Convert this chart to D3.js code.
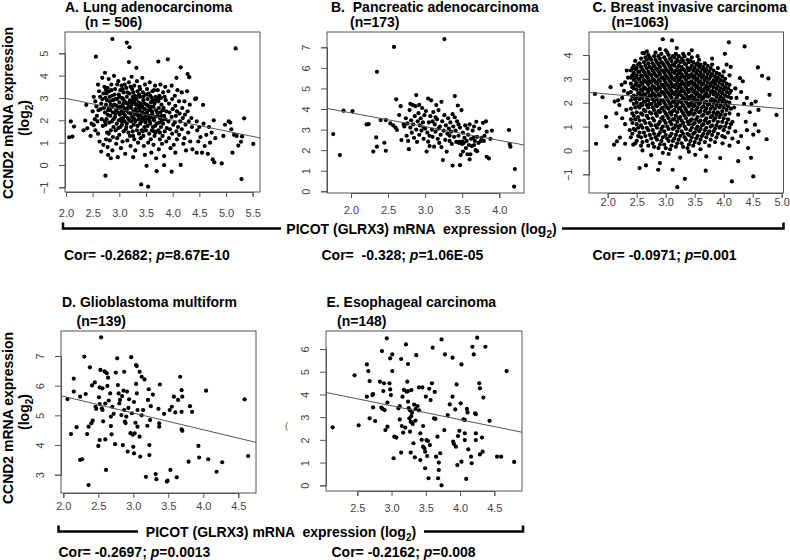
<!DOCTYPE html>
<html><head><meta charset="utf-8">
<script src="https://cdn.jsdelivr.net/npm/d3@7"></script>
<style>
body{margin:0;background:#fff}
svg text{font-family:"Liberation Sans",Arial,Helvetica,sans-serif}
</style>
</head><body>
<svg id="chart" width="790" height="560"></svg>
<script>
// ---------------- DATA ----------------
const titles = ["A. Lung adenocarcinoma","B.  Pancreatic adenocarcinoma","C. Breast invasive carcinoma","D. Glioblastoma multiform","E. Esophageal carcinoma"];
const nLabels = ["(n = 506)","(n=173)","(n=1063)","(n=139)","(n=148)"];
const corValues = ["-0.2682"," -0.328","-0.0971","-0.2697","-0.2162"];
const pValues = ["8.67E-10","1.06E-05","0.001","0.0013","0.008"];
const xLabel = "PICOT (GLRX3) mRNA  expression (log";
const yLabel = "CCND2 mRNA expression";

const lungXTicks=[2.0,2.5,3.0,3.5,4.0,4.5,5.0,5.5], lungYTicks=[-1,0,1,2,3,4,5];
const pancXTicks=[2.0,2.5,3.0,3.5,4.0], pancYTicks=[0,1,2,3,4,5,6,7];
const breastXTicks=[2.0,2.5,3.0,3.5,4.0,4.5,5.0], breastYTicks=[-1,0,1,2,3,4];
const gbmXTicks=[2.0,2.5,3.0,3.5,4.0,4.5], gbmYTicks=[3,4,5,6,7];
const escaXTicks=[2.5,3.0,3.5,4.0,4.5], escaYTicks=[0,1,2,3,4,5,6];

// regression fits [intercept, slope]
const lungFit=[3.95,-0.486], pancFit=[5.147,-0.668], breastFit=[2.77,-0.203], gbmFit=[6.77,-0.564], escaFit=[5.338,-0.612];

const lungPts=[[2.06,1.24],[2.12,1.27],[2.09,1.95],[2.15,1.72],[2.36,1.99],[2.38,2.69],[2.46,1.30],[2.40,1.64],[2.33,1.55],
[2.56,4.85],[2.52,3.05],[2.55,2.85],[2.57,2.62],[2.50,2.40],[2.48,1.85],[2.55,1.55],[2.52,1.78],[2.60,3.60],[2.62,3.30],[2.58,2.20],[2.60,1.40],[2.63,1.05],[2.65,2.50],[2.64,3.05],[2.66,2.75],[2.68,3.90],[2.67,2.05],[2.69,1.75],[2.70,0.90],[2.66,0.60],[2.70,3.20],[2.68,2.95],[2.54,2.05],[2.61,2.45],[2.59,1.95],
[2.73,4.13],[2.74,-0.48],[2.72,3.50],[2.74,3.00],[2.75,2.70],[2.73,2.35],[2.76,2.05],[2.74,1.80],[2.77,1.45],[2.75,1.15],[2.78,0.80],[2.80,3.85],[2.81,3.30],[2.82,2.85],[2.80,2.55],[2.83,2.20],[2.81,1.90],[2.84,1.55],[2.82,1.10],[2.79,0.45],[2.85,3.60],[2.86,3.10],[2.87,2.60],[2.88,2.35],[2.86,1.95],[2.89,1.70],[2.88,1.25],[2.87,0.65],[2.90,3.99],[2.87,5.64],[2.84,0.30],[2.78,3.45],[2.76,3.20],[2.84,2.70],[2.79,2.45],[2.82,3.05],[2.88,2.90],[2.77,2.90],
[2.92,3.40],[2.93,2.95],[2.91,2.70],[2.94,2.45],[2.92,2.15],[2.95,1.85],[2.93,1.55],[2.96,1.20],[2.94,0.95],[2.97,0.35],[2.98,3.75],[2.99,3.15],[3.00,2.80],[2.98,2.55],[3.01,2.25],[2.99,2.00],[3.02,1.70],[3.00,1.35],[3.03,0.75],[3.04,3.55],[3.05,3.00],[3.06,2.65],[3.04,2.40],[3.07,2.10],[3.05,1.80],[3.08,1.50],[3.06,1.05],[3.09,3.85],[3.08,3.25],[3.10,2.85],[3.09,2.55],[3.11,2.20],[3.10,1.95],[3.12,1.60],[3.11,0.50],[3.14,5.48],[3.10,3.60],[2.96,3.60],[3.02,3.35],[3.07,2.95],[2.97,2.35],[3.03,2.05],[3.08,2.30],[2.95,2.65],
[3.13,3.45],[3.14,3.05],[3.15,2.75],[3.13,2.45],[3.16,2.10],[3.14,1.85],[3.17,1.45],[3.15,1.10],[3.18,4.61],[3.19,5.27],[3.18,3.70],[3.19,3.20],[3.20,2.90],[3.18,2.60],[3.21,2.30],[3.19,2.00],[3.22,1.70],[3.20,1.30],[3.21,0.85],[3.23,3.95],[3.24,3.40],[3.25,3.05],[3.23,2.70],[3.26,2.40],[3.24,2.15],[3.27,1.80],[3.25,1.50],[3.26,0.35],[3.28,3.55],[3.29,3.10],[3.28,2.80],[3.30,2.50],[3.29,2.25],[3.30,1.95],[3.28,1.15],[3.30,0.65],[3.16,2.55],[3.22,2.55],[3.27,2.95],[3.21,3.50],[3.26,1.30],
[3.32,4.35],[3.33,3.75],[3.34,3.30],[3.32,2.95],[3.35,2.65],[3.33,2.35],[3.36,2.05],[3.34,1.75],[3.37,1.40],[3.35,1.00],[3.38,3.50],[3.39,3.05],[3.40,2.75],[3.38,2.45],[3.41,2.15],[3.39,1.85],[3.42,1.55],[3.40,1.20],[3.41,-0.87],[3.43,3.90],[3.44,3.25],[3.45,2.90],[3.43,2.60],[3.46,2.30],[3.44,2.00],[3.47,1.70],[3.45,1.30],[3.46,0.85],[3.48,3.60],[3.49,3.15],[3.48,2.50],[3.50,2.20],[3.49,1.90],[3.50,1.55],[3.48,0.45],[3.51,-0.04],[3.36,2.80],[3.42,2.60],[3.47,2.75],[3.37,3.15],[3.45,2.10],[3.39,2.25],[3.33,1.55],[3.44,1.50],
[3.52,3.40],[3.53,2.95],[3.54,2.65],[3.52,2.35],[3.55,2.05],[3.53,1.75],[3.56,1.40],[3.54,1.00],[3.54,-0.97],[3.57,3.70],[3.58,3.10],[3.59,2.80],[3.57,2.50],[3.60,2.15],[3.58,1.85],[3.61,1.55],[3.59,1.15],[3.60,0.55],[3.62,3.30],[3.63,2.90],[3.64,2.60],[3.62,2.30],[3.65,2.00],[3.63,1.70],[3.66,1.30],[3.64,0.90],[3.67,3.55],[3.68,3.05],[3.69,2.45],[3.67,2.15],[3.70,1.85],[3.68,1.45],[3.70,-0.28],[3.69,0.30],[3.56,2.20],[3.61,2.40],[3.66,2.75],[3.55,3.20],[3.65,1.50],
[3.73,4.63],[3.72,3.35],[3.73,2.85],[3.74,2.55],[3.72,2.20],[3.75,1.90],[3.73,1.55],[3.76,1.15],[3.74,0.70],[3.77,3.60],[3.78,3.00],[3.79,2.70],[3.77,2.35],[3.80,2.00],[3.78,1.70],[3.81,1.30],[3.80,0.95],[3.82,3.25],[3.83,2.55],[3.84,2.20],[3.82,1.85],[3.85,1.50],[3.84,0.40],[3.86,3.50],[3.87,2.90],[3.88,2.40],[3.86,2.05],[3.89,1.65],[3.88,1.05],[3.84,-0.01],[3.91,4.73],[3.76,2.10],[3.81,2.45],[3.75,3.10],[3.85,3.05],
[3.92,3.30],[3.93,2.75],[3.94,2.35],[3.92,1.95],[3.95,1.60],[3.93,1.20],[3.96,0.75],[3.98,3.55],[3.99,2.95],[4.00,2.50],[3.98,2.15],[4.01,1.80],[3.99,1.40],[4.02,0.90],[3.98,-0.30],[4.04,3.10],[4.05,2.65],[4.06,2.20],[4.04,1.90],[4.07,1.50],[4.05,0.55],[4.09,3.35],[4.08,2.40],[4.10,1.70],[4.08,1.15],[4.07,3.90],
[4.12,2.85],[4.13,2.30],[4.14,1.95],[4.12,1.35],[4.15,0.00],[4.15,4.37],[4.17,3.25],[4.18,2.55],[4.19,2.10],[4.17,1.60],[4.20,0.95],[4.22,2.85],[4.23,2.25],[4.24,1.80],[4.22,1.20],[4.25,0.65],[4.28,4.07],[4.31,3.93],[4.27,3.30],[4.28,2.40],[4.30,1.95],[4.29,1.45],[4.32,2.70],[4.33,1.05],[4.35,2.10],[4.37,0.70],[4.36,1.70],
[4.42,2.95],[4.44,2.98],[4.45,1.95],[4.46,1.55],[4.48,1.05],[4.45,0.55],[4.50,1.70],[4.52,1.25],[4.55,0.55],[4.57,2.69],[4.58,1.85],[4.60,0.85],[4.63,1.35],[4.66,0.50],[4.68,1.70],[4.70,1.00],[4.73,1.45],[4.75,0.25],[4.78,0.12],[4.80,1.20],[4.77,2.00],
[4.92,0.07],[4.95,1.30],[4.98,1.80],[5.05,1.95],[5.08,1.90],[5.10,1.60],[5.12,0.55],[5.18,5.22],[5.20,1.30],[5.23,0.87],[5.28,1.04],[5.30,1.28],[5.29,-0.63],[5.34,2.09],[5.51,0.94],[5.15,1.35],
[2.83,2.45],[2.85,3.35],[2.89,2.05],[2.91,3.15],[2.93,2.30],[2.96,2.95],[2.98,1.65],[3.00,3.05],[3.02,2.60],[3.04,1.95],[3.06,3.40],[3.08,2.75],[3.11,2.45],[3.13,1.70],[3.15,3.25],[3.17,2.35],[3.19,2.80],[3.22,1.95],[3.24,2.85],[3.26,3.25],[3.28,2.05],[3.31,2.70],[3.33,3.05],[3.35,2.20],[3.37,2.55],[3.39,3.40],[3.41,1.95],[3.43,2.35],[3.45,3.05],[3.47,2.50],[3.49,2.05],[3.51,2.70],[3.53,3.15],[3.55,2.45],[3.57,1.95],[3.59,2.60],[3.61,3.00],[3.63,2.10],[3.65,3.35],[3.67,1.75],[3.69,2.90],[3.71,2.35],[3.74,3.00],[3.76,1.45],[3.79,2.20],[2.71,2.55],[2.73,1.95],[2.75,3.35],[2.78,2.25],[2.80,1.40]];

const pancPts=[[1.76,2.78],[1.85,1.76],[1.90,3.92],[2.02,3.90],[2.21,3.25],[2.24,3.27],[2.35,5.81],[2.34,2.62],[2.35,2.17],[2.30,1.93],[2.40,3.46],[2.45,2.36],[2.47,1.97],[2.47,3.46],[2.53,3.30],[2.58,7.02],[2.61,4.47],[2.62,2.98],[2.65,3.71],[2.67,4.14],[2.68,2.49],[2.71,3.25],[2.60,3.10],[2.57,3.20],
[2.72,3.15],[2.74,3.55],[2.75,2.70],[2.76,3.30],[2.77,2.45],[2.78,2.05],[2.79,3.95],[2.80,3.10],[2.81,3.45],[2.82,2.85],[2.83,4.20],[2.84,3.25],[2.85,2.60],[2.86,3.65],[2.87,4.14],[2.88,4.68],[2.88,3.00],[2.89,2.40],[2.90,3.40],[2.91,3.80],[2.92,2.75],[2.93,3.20],[2.94,3.55],[2.95,2.95],[2.96,4.05],[2.97,3.35],[2.98,2.55],[2.99,3.70],[2.80,4.25],[2.92,4.20],
[3.00,3.05],[3.01,3.90],[3.02,1.93],[3.03,2.85],[3.04,4.51],[3.04,2.41],[3.05,3.35],[3.06,2.20],[3.07,3.65],[3.08,4.42],[3.09,3.00],[3.10,2.65],[3.11,3.85],[3.12,2.17],[3.13,3.25],[3.14,2.90],[3.15,4.19],[3.16,3.50],[3.17,2.55],[3.18,3.95],[3.19,2.35],[3.20,3.15],[3.21,2.75],[3.22,4.35],[3.23,3.40],[3.24,1.52],[3.25,2.95],[3.26,7.40],[3.26,3.70],[3.27,2.50],[3.28,3.20],[3.29,1.93],[3.10,3.40],[3.18,3.05],
[3.30,2.80],[3.31,3.55],[3.32,3.05],[3.33,2.45],[3.34,3.35],[3.35,2.90],[3.36,2.30],[3.37,1.25],[3.37,3.75],[3.38,3.15],[3.39,2.65],[3.40,4.63],[3.41,2.95],[3.42,2.40],[3.43,3.40],[3.44,4.17],[3.45,2.70],[3.46,2.35],[3.47,1.27],[3.47,3.10],[3.48,1.76],[3.48,2.35],[3.49,3.95],[3.49,2.40],[3.50,2.30],[3.51,1.93],[3.51,2.85],[3.52,2.35],[3.53,2.60],[3.54,3.20],[3.55,2.10],[3.56,2.45],[3.57,1.80],[3.58,2.75],[3.59,2.25],[3.60,3.25],[3.61,1.80],[3.62,2.55],[3.46,2.40],[3.50,2.42],[3.45,3.25],
[3.63,2.20],[3.64,2.95],[3.65,2.60],[3.66,3.15],[3.67,2.45],[3.68,2.00],[3.69,3.38],[3.70,2.65],[3.72,2.35],[3.73,3.05],[3.75,2.44],[3.76,2.60],[3.78,3.33],[3.79,2.45],[3.80,2.70],[3.82,3.40],[3.83,2.90],[3.83,1.68],[3.86,1.60],[3.88,2.55],[3.90,2.95],[3.70,1.95],[3.60,1.55],
[2.98,3.10],[3.06,2.70],[3.14,3.60],[3.22,2.15],[3.33,2.70],[3.40,3.60],[3.57,3.05],[3.66,2.25],
[4.13,2.98],[4.14,2.30],[4.15,2.17],[4.21,1.08],[4.20,0.23]];

// breast: dense core read column by column, plus interleaved columns and fringe points
const breastPts=[
[2.40,0.55],[2.40,1.30],[2.40,1.75],[2.40,2.10],[2.40,2.45],[2.40,2.80],[2.40,3.05],[2.40,3.35],
[2.45,0.90],[2.45,1.45],[2.45,1.95],[2.45,2.30],[2.45,2.60],[2.45,2.95],[2.45,3.25],[2.45,3.55],
[2.50,0.40],[2.50,1.10],[2.50,1.60],[2.50,2.00],[2.50,2.25],[2.50,2.55],[2.50,2.85],[2.50,3.15],[2.50,3.45],
[2.55,0.75],[2.55,1.25],[2.55,1.80],[2.55,2.15],[2.55,2.40],[2.55,2.70],[2.55,3.00],[2.55,3.30],[2.55,3.65],
[2.60,0.35],[2.60,0.95],[2.60,1.50],[2.60,1.90],[2.60,2.20],[2.60,2.50],[2.60,2.80],[2.60,3.10],[2.60,3.40],[2.60,4.08],
[2.65,0.60],[2.65,1.15],[2.65,1.65],[2.65,2.05],[2.65,2.35],[2.65,2.60],[2.65,2.90],[2.65,3.20],[2.65,3.55],[2.65,3.90],
[2.70,0.20],[2.70,0.85],[2.70,1.35],[2.70,1.80],[2.70,2.10],[2.70,2.45],[2.70,2.75],[2.70,3.00],[2.70,3.30],[2.70,3.65],
[2.75,0.50],[2.75,1.05],[2.75,1.55],[2.75,1.95],[2.75,2.25],[2.75,2.55],[2.75,2.85],[2.75,3.15],[2.75,3.45],[2.75,3.80],
[2.80,0.15],[2.80,0.70],[2.80,1.25],[2.80,1.70],[2.80,2.05],[2.80,2.35],[2.80,2.65],[2.80,2.95],[2.80,3.25],[2.80,3.55],[2.80,3.95],
[2.85,0.45],[2.85,0.95],[2.85,1.45],[2.85,1.85],[2.85,2.15],[2.85,2.50],[2.85,2.80],[2.85,3.10],[2.85,3.40],[2.85,3.70],
[2.90,0.25],[2.90,0.75],[2.90,1.20],[2.90,1.60],[2.90,1.95],[2.90,2.30],[2.90,2.60],[2.90,2.90],[2.90,3.20],[2.90,3.50],[2.90,3.85],[2.90,4.25],
[2.95,0.55],[2.95,1.00],[2.95,1.40],[2.95,1.80],[2.95,2.10],[2.95,2.45],[2.95,2.75],[2.95,3.05],[2.95,3.35],[2.95,3.65],[2.95,4.66],
[3.00,0.10],[3.00,0.65],[3.00,1.15],[3.00,1.55],[3.00,1.90],[3.00,2.25],[3.00,2.55],[3.00,2.85],[3.00,3.15],[3.00,3.45],[3.00,3.80],
[3.05,0.40],[3.05,0.90],[3.05,1.35],[3.05,1.75],[3.05,2.05],[3.05,2.40],[3.05,2.70],[3.05,3.00],[3.05,3.30],[3.05,3.60],[3.05,4.00],
[3.10,0.20],[3.10,0.70],[3.10,1.10],[3.10,1.50],[3.10,1.85],[3.10,2.20],[3.10,2.50],[3.10,2.80],[3.10,3.10],[3.10,3.40],[3.10,3.75],[3.11,4.61],
[3.15,0.50],[3.15,0.95],[3.15,1.30],[3.15,1.70],[3.15,2.00],[3.15,2.35],[3.15,2.65],[3.15,2.95],[3.15,3.25],[3.15,3.55],[3.15,3.90],
[3.20,0.30],[3.20,0.80],[3.20,1.20],[3.20,1.60],[3.20,1.95],[3.20,2.25],[3.20,2.55],[3.20,2.85],[3.20,3.15],[3.20,3.45],[3.20,3.80],[3.19,4.29],
[3.25,0.60],[3.25,1.05],[3.25,1.40],[3.25,1.80],[3.25,2.10],[3.25,2.45],[3.25,2.75],[3.25,3.05],[3.25,3.35],[3.25,3.70],
[3.30,0.15],[3.30,0.70],[3.30,1.15],[3.30,1.55],[3.30,1.90],[3.30,2.20],[3.30,2.50],[3.30,2.80],[3.30,3.10],[3.30,3.40],[3.30,3.75],[3.30,4.05],
[3.35,0.45],[3.35,0.90],[3.35,1.35],[3.35,1.70],[3.35,2.05],[3.35,2.35],[3.35,2.65],[3.35,2.95],[3.35,3.25],[3.35,3.60],
[3.40,0.25],[3.40,0.65],[3.40,1.10],[3.40,1.50],[3.40,1.85],[3.40,2.15],[3.40,2.45],[3.40,2.75],[3.40,3.05],[3.40,3.35],[3.40,3.70],
[3.45,0.55],[3.45,0.95],[3.45,1.30],[3.45,1.70],[3.45,2.00],[3.45,2.30],[3.45,2.60],[3.45,2.90],[3.45,3.20],[3.45,3.55],[3.45,3.90],
[3.50,0.35],[3.50,0.75],[3.50,1.15],[3.50,1.55],[3.50,1.90],[3.50,2.20],[3.50,2.50],[3.50,2.80],[3.50,3.10],[3.50,3.45],
[3.55,0.60],[3.55,1.00],[3.55,1.40],[3.55,1.80],[3.55,2.10],[3.55,2.40],[3.55,2.70],[3.55,3.00],[3.55,3.35],[3.55,3.65],
[3.60,0.45],[3.60,0.90],[3.60,1.25],[3.60,1.65],[3.60,2.00],[3.60,2.30],[3.60,2.60],[3.60,2.90],[3.60,3.25],[3.60,3.60],
[3.65,0.70],[3.65,1.10],[3.65,1.50],[3.65,1.85],[3.65,2.20],[3.65,2.50],[3.65,2.80],[3.65,3.15],[3.65,3.50],
[3.70,0.55],[3.70,0.95],[3.70,1.35],[3.70,1.75],[3.70,2.05],[3.70,2.40],[3.70,2.70],[3.70,3.05],[3.70,3.40],
[3.75,0.80],[3.75,1.20],[3.75,1.60],[3.75,1.95],[3.75,2.30],[3.75,2.65],[3.75,3.00],[3.75,3.30],
[3.80,0.65],[3.80,1.05],[3.80,1.45],[3.80,1.85],[3.80,2.15],[3.80,2.50],[3.80,2.85],[3.80,3.20],[3.80,3.60],
[3.85,0.90],[3.85,1.35],[3.85,1.75],[3.85,2.10],[3.85,2.45],[3.85,2.80],[3.85,3.10],
[3.90,0.70],[3.90,1.20],[3.90,1.60],[3.90,2.00],[3.90,2.35],[3.90,2.70],[3.90,3.05],[3.90,3.45],
[3.95,1.00],[3.95,1.50],[3.95,1.90],[3.95,2.25],[3.95,2.60],[3.95,2.95],
[4.00,0.85],[4.00,1.35],[4.00,1.80],[4.00,2.15],[4.00,2.55],[4.00,2.90],[4.00,3.30],
[4.05,1.15],[4.05,1.70],[4.05,2.05],[4.05,2.45],[4.05,2.80],
[4.10,0.95],[4.10,1.55],[4.10,2.00],[4.10,2.40],[4.10,2.75],[4.10,3.15],
[2.425,0.70],[2.425,1.15],[2.425,1.55],[2.425,2.25],[2.425,2.65],[2.425,3.15],[2.425,3.45],
[2.475,0.30],[2.475,0.85],[2.475,1.30],[2.475,1.80],[2.475,2.15],[2.475,2.75],[2.475,3.05],[2.475,3.40],[2.475,3.75],
[2.525,0.60],[2.525,0.95],[2.525,1.40],[2.525,1.85],[2.525,2.40],[2.525,2.70],[2.525,3.00],[2.525,3.30],[2.525,3.60],
[2.575,0.20],[2.575,0.55],[2.575,1.05],[2.575,1.55],[2.575,1.95],[2.575,2.30],[2.575,2.55],[2.575,2.85],[2.575,3.15],[2.575,3.50],[2.575,3.85],
[2.625,0.75],[2.625,1.25],[2.625,1.70],[2.625,2.05],[2.625,2.35],[2.625,2.65],[2.625,2.95],[2.625,3.30],[2.625,3.70],
[2.675,0.40],[2.675,0.95],[2.675,1.45],[2.675,1.90],[2.675,2.20],[2.675,2.55],[2.675,2.85],[2.675,3.10],[2.675,3.45],[2.675,3.80],[2.675,4.15],
[2.725,0.65],[2.725,1.15],[2.725,1.60],[2.725,1.95],[2.725,2.30],[2.725,2.60],[2.725,2.90],[2.725,3.20],[2.725,3.50],[2.725,3.90],
[2.775,0.30],[2.775,0.85],[2.775,1.35],[2.775,1.80],[2.775,2.15],[2.775,2.40],[2.775,2.70],[2.775,3.00],[2.775,3.35],[2.775,3.65],
[2.825,0.55],[2.825,1.05],[2.825,1.55],[2.825,1.90],[2.825,2.25],[2.825,2.55],[2.825,2.85],[2.825,3.15],[2.825,3.45],[2.825,3.80],[2.825,4.10],
[2.875,0.10],[2.875,0.65],[2.875,1.10],[2.875,1.65],[2.875,2.00],[2.875,2.35],[2.875,2.65],[2.875,2.95],[2.875,3.30],[2.875,3.60],[2.875,3.95],
[2.925,0.40],[2.925,0.90],[2.925,1.35],[2.925,1.75],[2.925,2.10],[2.925,2.45],[2.925,2.75],[2.925,3.05],[2.925,3.35],[2.925,3.70],[2.925,4.05],
[2.975,0.25],[2.975,0.80],[2.975,1.25],[2.975,1.65],[2.975,2.00],[2.975,2.35],[2.975,2.65],[2.975,2.95],[2.975,3.25],[2.975,3.55],[2.975,3.90],
[3.025,0.50],[3.025,1.00],[3.025,1.45],[3.025,1.80],[3.025,2.15],[3.025,2.45],[3.025,2.75],[3.025,3.05],[3.025,3.35],[3.025,3.70],[3.025,4.10],
[3.075,0.05],[3.075,0.60],[3.075,1.20],[3.075,1.60],[3.075,1.95],[3.075,2.30],[3.075,2.60],[3.075,2.90],[3.075,3.20],[3.075,3.50],[3.075,3.85],
[3.125,0.40],[3.125,0.90],[3.125,1.30],[3.125,1.65],[3.125,2.05],[3.125,2.40],[3.125,2.70],[3.125,3.00],[3.125,3.30],[3.125,3.60],[3.125,3.95],
[3.175,0.15],[3.175,0.65],[3.175,1.05],[3.175,1.45],[3.175,1.85],[3.175,2.15],[3.175,2.45],[3.175,2.75],[3.175,3.05],[3.175,3.35],[3.175,3.70],[3.175,4.05],
[3.225,0.45],[3.225,0.95],[3.225,1.35],[3.225,1.75],[3.225,2.05],[3.225,2.35],[3.225,2.65],[3.225,2.95],[3.225,3.25],[3.225,3.55],[3.225,3.95],
[3.275,0.30],[3.275,0.80],[3.275,1.25],[3.275,1.65],[3.275,2.00],[3.275,2.30],[3.275,2.60],[3.275,2.90],[3.275,3.20],[3.275,3.50],[3.275,3.85],
[3.325,0.55],[3.325,1.00],[3.325,1.45],[3.325,1.80],[3.325,2.15],[3.325,2.45],[3.325,2.75],[3.325,3.05],[3.325,3.35],[3.325,3.65],[3.325,3.95],
[3.375,0.10],[3.375,0.70],[3.375,1.20],[3.375,1.60],[3.375,1.95],[3.375,2.25],[3.375,2.55],[3.375,2.85],[3.375,3.15],[3.375,3.45],[3.375,3.80],
[3.425,0.40],[3.425,0.85],[3.425,1.25],[3.425,1.60],[3.425,1.95],[3.425,2.25],[3.425,2.55],[3.425,2.85],[3.425,3.15],[3.425,3.45],[3.425,3.75],
[3.475,0.20],[3.475,0.70],[3.475,1.10],[3.475,1.50],[3.475,1.85],[3.475,2.15],[3.475,2.45],[3.475,2.75],[3.475,3.05],[3.475,3.35],[3.475,3.70],
[3.525,0.50],[3.525,0.90],[3.525,1.30],[3.525,1.70],[3.525,2.05],[3.525,2.35],[3.525,2.65],[3.525,2.95],[3.525,3.25],[3.525,3.60],
[3.575,0.30],[3.575,0.80],[3.575,1.20],[3.575,1.60],[3.575,1.95],[3.575,2.25],[3.575,2.55],[3.575,2.85],[3.575,3.15],[3.575,3.50],[3.575,3.80],
[3.625,0.60],[3.625,1.05],[3.625,1.45],[3.625,1.80],[3.625,2.15],[3.625,2.45],[3.625,2.75],[3.625,3.05],[3.625,3.40],
[3.675,0.35],[3.675,0.85],[3.675,1.25],[3.675,1.65],[3.675,2.00],[3.675,2.30],[3.675,2.60],[3.675,2.95],[3.675,3.30],[3.675,3.65],
[3.725,0.70],[3.725,1.15],[3.725,1.55],[3.725,1.90],[3.725,2.25],[3.725,2.55],[3.725,2.85],[3.725,3.20],[3.725,3.55],
[3.775,0.45],[3.775,1.00],[3.775,1.40],[3.775,1.75],[3.775,2.10],[3.775,2.45],[3.775,2.75],[3.775,3.10],[3.775,3.45],
[3.825,0.80],[3.825,1.25],[3.825,1.60],[3.825,2.00],[3.825,2.35],[3.825,2.65],[3.825,2.95],[3.825,3.35],
[3.875,0.55],[3.875,1.05],[3.875,1.50],[3.875,1.90],[3.875,2.25],[3.875,2.60],[3.875,2.95],[3.875,3.25],
[3.925,0.95],[3.925,1.40],[3.925,1.80],[3.925,2.15],[3.925,2.50],[3.925,2.85],[3.925,3.20],
[3.975,0.60],[3.975,1.20],[3.975,1.65],[3.975,2.05],[3.975,2.40],[3.975,2.75],[3.975,3.10],
[4.025,1.00],[4.025,1.50],[4.025,1.95],[4.025,2.30],[4.025,2.65],[4.025,3.00],
[4.075,0.75],[4.075,1.30],[4.075,1.85],[4.075,2.25],[4.075,2.60],
[4.125,1.10],[4.125,1.75],[4.125,2.20],[4.125,2.50],
[1.80,0.28],[1.97,1.40],[1.98,1.01],[1.91,2.23],[2.05,2.65],[1.78,2.37],[2.20,-0.35],[2.16,0.38],[2.11,0.24],[2.30,0.28],[2.21,0.54],[2.44,0.24],[2.15,1.55],[2.20,1.90],[2.25,2.20],[2.28,2.50],[2.18,2.10],[2.30,1.10],[2.32,1.70],[2.35,2.40],[2.35,3.05],[2.30,2.85],[2.25,1.35],[2.38,0.85],[2.12,2.05],[2.24,2.75],[2.33,3.35],
[2.55,-0.74],[2.66,-0.63],[2.87,-0.81],[2.90,-0.53],[3.12,-0.81],[3.20,-1.54],[3.33,-1.19],[3.69,-0.85],[3.51,-0.18],[3.94,-0.32],[4.14,-1.30],[4.51,-1.09],[4.47,-0.31],[2.75,-0.20],[3.05,-0.15],[3.25,-0.30],[3.40,-0.05],[3.60,0.05],[3.75,0.20],[3.85,0.35],[2.60,0.00],[2.95,-0.10],[3.70,-0.25],
[2.63,4.08],[3.40,4.05],[3.55,3.95],[3.80,3.85],[3.45,4.20],[3.00,4.20],[2.70,4.00],
[4.02,4.05],[4.09,4.53],[4.36,4.36],[4.59,3.48],[4.66,3.13],[4.77,3.02],[4.79,2.33],[4.91,1.49],[4.74,0.47],[4.51,0.66],[4.54,1.08],[4.28,3.03],[4.20,2.60],[4.22,2.20],[4.18,1.80],[4.25,1.50],[4.15,1.20],[4.20,0.80],[4.25,0.35],[4.30,2.45],[4.35,1.95],[4.38,1.20],[4.40,0.85],[4.45,1.60],[4.30,0.60],[4.12,3.50],[4.05,3.60],[4.15,0.50],[4.10,0.20],[4.02,0.55],[3.98,0.30],[4.40,2.20],[4.48,1.95],[4.55,2.05],[4.60,1.70],[4.33,2.90],[4.42,0.10],[4.60,0.80],[4.25,-0.45]];

const gbmPts=[[2.06,5.55],[2.11,4.37],[2.15,6.24],[2.15,5.80],[2.19,4.60],[2.24,5.63],[2.24,3.50],[2.27,3.52],[2.30,6.98],[2.32,5.72],[2.36,2.65],[2.34,4.37],[2.36,4.62],[2.38,6.62],[2.40,4.73],[2.42,4.82],[2.41,6.01],[2.45,6.11],[2.46,5.29],[2.47,5.22],[2.51,5.61],[2.52,5.38],[2.50,3.97],[2.52,4.17],[2.53,6.53],[2.52,5.94],[2.54,7.63],[2.55,5.24],[2.56,5.18],[2.56,5.91],[2.59,6.48],[2.60,4.19],[2.61,3.16],[2.60,5.40],[2.62,6.42],[2.63,5.99],[2.64,6.27],[2.67,5.74],[2.68,4.64],[2.68,4.96],[2.69,4.36],[2.70,5.29],[2.74,4.03],[2.75,6.44],[2.77,6.92],[2.78,6.02],[2.79,5.74],[2.80,5.40],[2.81,5.52],[2.83,5.01],[2.85,4.00],[2.87,6.47],[2.86,5.83],[2.87,5.18],[2.88,4.79],[2.89,4.74],[2.90,4.96],[2.91,5.80],[2.92,3.78],[2.94,5.54],[2.97,6.96],[2.98,5.07],[2.99,4.35],[3.00,3.94],[3.01,5.45],[3.02,4.39],[3.01,3.72],[3.04,6.69],[3.05,6.66],[3.04,6.06],[3.05,5.74],[3.06,5.18],[3.06,4.62],[3.09,6.47],[3.09,4.28],[3.10,3.61],[3.12,6.30],[3.14,5.18],[3.16,6.21],[3.18,2.93],[3.21,5.52],[3.22,5.88],[3.23,4.00],[3.23,3.66],[3.25,5.31],[3.24,4.84],[3.32,3.02],[3.33,2.85],[3.36,5.22],[3.37,4.73],[3.37,4.62],[3.38,6.04],[3.49,2.80],[3.48,2.77],[3.52,5.18],[3.55,5.29],[3.58,5.63],[3.53,3.16],[3.62,2.91],[3.64,5.52],[3.67,6.30],[3.69,5.85],[3.70,5.63],[3.69,5.12],[3.69,4.53],[3.70,4.48],[3.79,3.44],[3.81,5.31],[3.84,5.12],[3.93,3.97],[3.94,3.58],[4.04,5.83],[4.07,3.52],[4.19,3.10],[4.27,3.42],[4.59,5.54],[4.64,3.63],
[2.57,4.80],[2.65,5.50],[2.72,5.05],[2.84,5.65],[2.93,5.25],[2.96,4.40],[3.03,4.75],[3.12,5.00],[3.20,4.65],[3.28,5.70],[3.44,5.05],[3.60,5.10]];

const escaPts=[[2.14,2.55],[2.46,4.84],[2.52,2.64],[2.64,3.90],[2.64,5.32],[2.66,5.03],[2.68,4.59],[2.68,2.95],[2.72,3.97],[2.73,4.02],[2.73,3.43],[2.76,2.83],[2.83,4.56],[2.85,3.42],[2.87,3.36],[2.93,6.47],[2.86,5.91],[2.89,4.49],[2.88,4.15],[2.90,3.31],[2.91,2.43],[2.94,2.58],[2.94,3.64],[2.97,4.49],[2.98,5.59],[2.98,4.22],[2.99,3.97],[3.01,5.76],[3.01,5.03],[3.03,1.19],[3.04,2.14],[3.07,2.10],[3.10,3.39],[3.12,2.90],[3.12,3.49],[3.14,1.44],[3.14,5.56],[3.15,2.61],[3.16,3.90],[3.17,2.32],[3.20,2.54],[3.21,6.20],[3.22,4.12],[3.24,4.15],[3.23,4.56],[3.24,5.34],[3.24,3.68],[3.25,3.40],[3.27,3.30],[3.26,2.95],[3.28,2.80],[3.30,2.75],[3.29,3.05],[3.31,2.70],[3.27,2.36],[3.28,1.44],[3.29,4.19],[3.32,1.85],[3.34,1.23],[3.33,3.55],[3.35,3.35],[3.36,5.73],[3.38,3.49],[3.40,4.31],[3.42,2.29],[3.42,1.11],[3.45,4.31],[3.46,2.61],[3.46,1.70],[3.48,1.63],[3.49,1.48],[3.49,0.75],[3.50,3.90],[3.51,1.99],[3.53,1.95],[3.54,0.31],[3.52,1.29],[3.56,1.77],[3.57,3.75],[3.59,4.49],[3.60,6.06],[3.62,2.95],[3.64,2.92],[3.63,4.11],[3.65,1.26],[3.67,2.14],[3.68,0.31],[3.69,1.00],[3.69,0.67],[3.71,1.41],[3.73,6.42],[3.73,0.00],[3.77,2.43],[3.78,5.76],[3.82,3.09],[3.85,3.56],[3.89,5.62],[3.89,3.90],[3.90,1.92],[3.91,1.82],[3.93,3.34],[3.94,1.70],[3.95,4.44],[3.96,0.89],[3.97,2.17],[3.99,2.40],[4.02,5.32],[4.02,1.04],[4.01,3.61],[4.05,2.90],[4.07,2.88],[4.07,2.29],[4.07,1.99],[4.09,0.28],[4.10,3.36],[4.11,3.21],[4.12,1.58],[4.16,1.26],[4.17,0.97],[4.18,6.10],[4.20,5.76],[4.22,3.17],[4.23,3.13],[4.23,2.29],[4.23,1.99],[4.25,6.50],[4.28,4.49],[4.29,4.27],[4.29,1.36],[4.32,2.10],[4.33,1.48],[4.34,3.86],[4.37,6.10],[4.43,2.84],[4.54,1.26],[4.60,1.26],[4.68,5.03],[4.79,1.03],
[3.18,4.20],[3.30,3.20],[3.35,2.85],[3.40,3.30],[3.44,2.00],[3.55,4.25]];

// ---------------- LAYOUT ----------------
const svg = d3.select("#chart");
const FONT = '"Liberation Sans",Arial,Helvetica,sans-serif';

const panels = [
 {pts:lungPts, fit:lungFit, xt:lungXTicks, yt:lungYTicks, xc:[2,66,5.5,252.7], yc:[-1,187.3,5,53.3], box:[65,32,260,192], xPad:12, title:[65,12,85,26.5]},
 {pts:pancPts, fit:pancFit, xt:pancXTicks, yt:pancYTicks, xc:[2,351,4,499.3], yc:[0,191.3,7,47.3], box:[327,32,524,193], xPad:8, title:[331,12,350,26.5]},
 {pts:breastPts, fit:breastFit, xt:breastXTicks, yt:breastYTicks, xc:[2,607.7,5,781.7], yc:[-1,174.3,4,55], box:[589,32,783.5,193], xPad:0.5, title:[592.5,12,611.5,26.5]},
 {pts:gbmPts, fit:gbmFit, xt:gbmXTicks, yt:gbmYTicks, xc:[2,63.3,4.5,238.3], yc:[3,474.7,7,356], box:[61,331,256,493], xPad:4, title:[62,306.5,76.5,325.5]},
 {pts:escaPts, fit:escaFit, xt:escaXTicks, yt:escaYTicks, xc:[2.5,357.3,4.5,494.3], yc:[0,485.3,6,349], box:[326,331,522,491], xPad:8, title:[326.5,306.5,337,325.5]}
];

const axisColor = "#555", labelColor = "#444";

panels.forEach((P,i)=>{
  const x = d3.scaleLinear().domain([P.xc[0],P.xc[2]]).range([P.xc[1],P.xc[3]]);
  const y = d3.scaleLinear().domain([P.yc[0],P.yc[2]]).range([P.yc[1],P.yc[3]]);
  const [bx0,by0,bx1,by1] = P.box;
  const g = svg.append("g");

  g.append("rect").attr("x",bx0).attr("y",by0).attr("width",bx1-bx0).attr("height",by1-by0)
   .attr("fill","none").attr("stroke",axisColor).attr("stroke-width",1);

  const xa = g.append("g").attr("transform",`translate(0,${by1})`)
    .call(d3.axisBottom(x).tickValues(P.xt).tickFormat(d3.format(".1f")).tickSize(5).tickPadding(P.xPad));
  xa.select(".domain").attr("stroke",axisColor);
  xa.selectAll(".tick line").attr("stroke",axisColor);
  xa.selectAll("text").attr("font-size",11).attr("font-family",FONT).attr("fill",labelColor);

  const ya = g.append("g").attr("transform",`translate(${bx0},0)`)
    .call(d3.axisLeft(y).tickValues(P.yt).tickFormat(d3.format("d")).tickSize(6));
  ya.select(".domain").attr("stroke",axisColor);
  ya.selectAll(".tick line").attr("stroke",axisColor);
  ya.selectAll("text").attr("font-size",11).attr("font-family",FONT).attr("fill",labelColor)
    .attr("x",null).attr("dy",null).attr("text-anchor","middle")
    .attr("transform","translate(-17,0) rotate(-90)");

  g.append("g").selectAll("circle").data(P.pts).join("circle")
    .attr("cx",d=>x(d[0])).attr("cy",d=>y(d[1])).attr("r",2.1).attr("fill","#000");

  const xa0 = x.invert(bx0), xa1 = x.invert(bx1);
  g.append("line").attr("x1",bx0).attr("x2",bx1)
    .attr("y1",y(P.fit[0]+P.fit[1]*xa0)).attr("y2",y(P.fit[0]+P.fit[1]*xa1))
    .attr("stroke","#555").attr("stroke-width",1);

  g.append("text").attr("x",P.title[0]).attr("y",P.title[1]).attr("font-size",14).attr("font-weight","bold")
    .style("white-space","pre").text(titles[i]);
  g.append("text").attr("x",P.title[2]).attr("y",P.title[3]).attr("font-size",14).attr("font-weight","bold")
    .style("white-space","pre").text(nLabels[i]);
});

const corPos = [[64,260],[321.5,260],[592.5,260],[58.5,557],[331.5,557]];
corPos.forEach((p,i)=>{
  const t = svg.append("text").attr("x",p[0]).attr("y",p[1]).attr("font-size",14).attr("font-weight","bold").style("white-space","pre");
  t.append("tspan").text("Cor= "+corValues[i]+"; ");
  t.append("tspan").attr("font-style","italic").text("p");
  t.append("tspan").text("="+pValues[i]);
});

function bracket(x0,x1,yb,gap0,gap1,tx,ty){
  const s = svg.append("g").attr("stroke","#000").attr("stroke-width",2.5).attr("fill","none");
  s.append("path").attr("d",`M${x0},${yb-6}V${yb}H${gap0}`);
  s.append("path").attr("d",`M${gap1},${yb}H${x1}V${yb-6}`);
  const t = svg.append("text").attr("x",tx).attr("y",ty).attr("font-size",14).attr("font-weight","bold")
     .attr("text-anchor","middle").style("white-space","pre");
  t.append("tspan").text(xLabel);
  t.append("tspan").attr("font-size",10).attr("dy",4).text("2");
  t.append("tspan").attr("dy",-4).text(")");
}
bracket(63,783.5,228.5,281,562,421.5,234);
bracket(58.5,523,531.5,138,424,281,537);

function ylab(cx,cy,lx,ly){
  svg.append("text").attr("transform",`translate(${cx},${cy}) rotate(-90)`).attr("text-anchor","middle")
    .attr("font-size",14).attr("font-weight","bold").text(yLabel);
  const t = svg.append("text").attr("transform",`translate(${lx},${ly}) rotate(-90)`).attr("text-anchor","middle")
    .attr("font-size",14).attr("font-weight","bold");
  t.append("tspan").text("(log");
  t.append("tspan").attr("font-size",10).attr("dy",4).text("2");
  t.append("tspan").attr("dy",-4).text(")");
}
ylab(12.5,113,28.5,118);
ylab(12.5,418,28.5,412);

svg.append("text").attr("x",285).attr("y",429).attr("font-size",9).attr("fill","#555").text("(");
</script>
</body></html>
